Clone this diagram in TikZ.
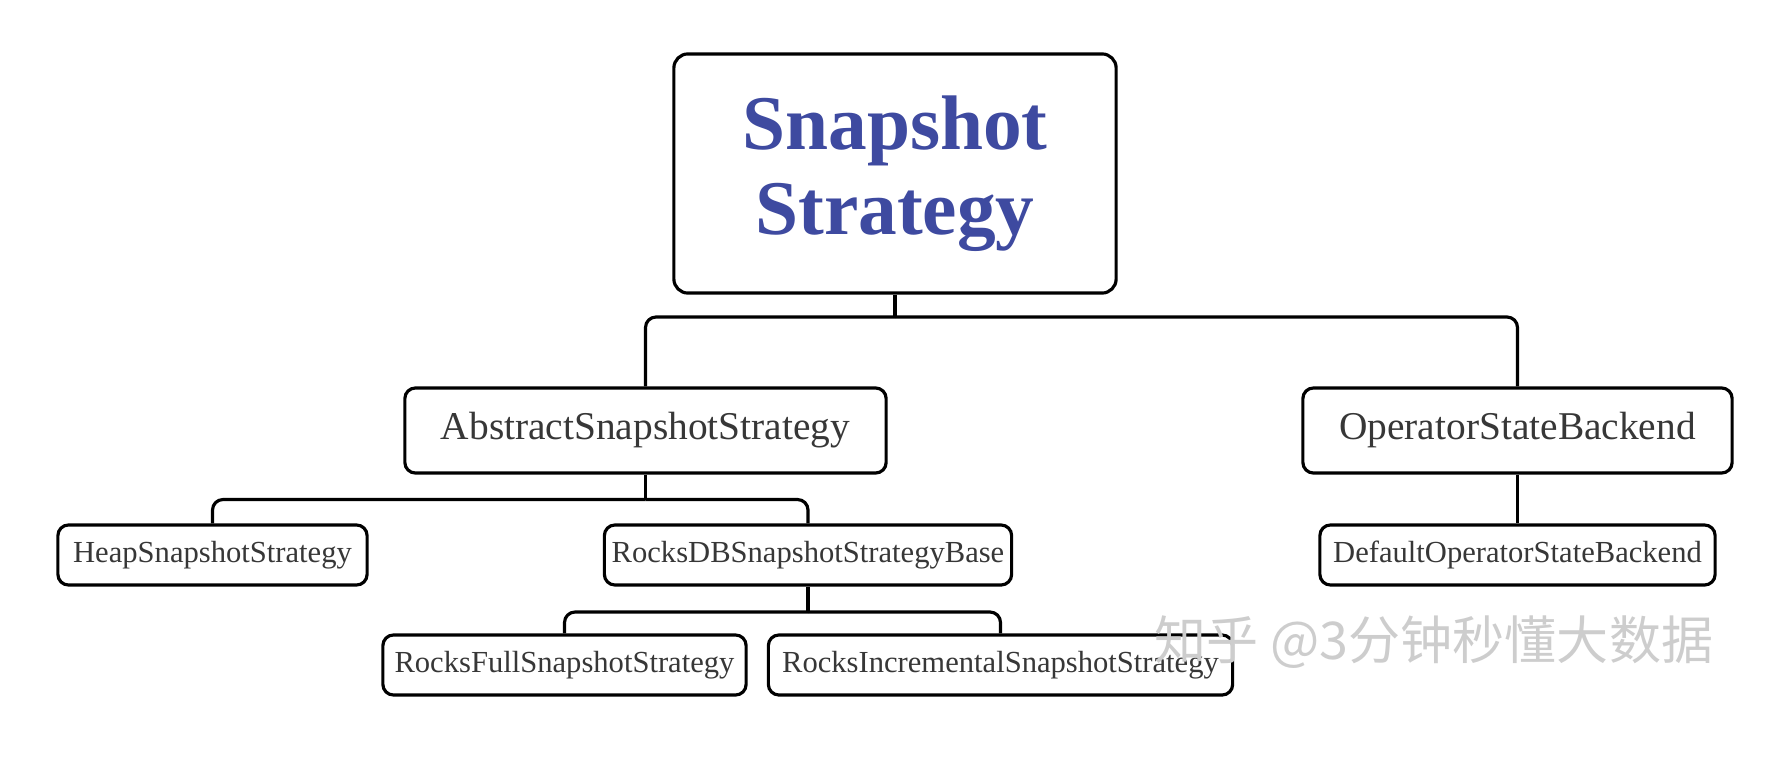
\documentclass[tikz,border=0pt]{standalone}
\usepackage{fontspec}
\setmainfont{Liberation Serif}
\newfontfamily\cjkfont{Noto Sans CJK SC}
\usetikzlibrary{positioning}
\definecolor{titleblue}{RGB}{62,74,160}
\definecolor{boxtext}{RGB}{55,55,55}
\definecolor{markgray}{RGB}{205,205,205}

\begin{document}
\begin{tikzpicture}[
    x=0.01cm, y=-0.01cm,
    box/.style={draw, rounded corners=3pt, line width=0.9pt, fill=white,
                text=boxtext, inner sep=0pt},
    big/.style={box, font=\fontsize{11.2}{13}\selectfont, minimum height=0.85cm},
    small/.style={box, font=\fontsize{8.7}{10}\selectfont, minimum height=0.6cm},
    link/.style={line width=0.9pt, rounded corners=3pt}
  ]
  \useasboundingbox (0,0) rectangle (1788,776);

  % Root
  \node[box, rounded corners=4pt, minimum width=4.42cm, minimum height=2.39cm,
        align=center, text=titleblue,
        font=\bfseries\fontsize{22}{24}\selectfont] (root) at (895,173.5)
        {Snapshot\\Strategy};

  % Second level
  \node[big, minimum width=4.81cm] (abs) at (645.5,430.5) {AbstractSnapshotStrategy};
  \node[big, minimum width=4.29cm] (opb) at (1517.5,430.5) {OperatorStateBackend};

  % Third level
  \node[small, minimum width=3.09cm] (heap) at (212.5,555) {HeapSnapshotStrategy};
  \node[small, minimum width=4.07cm] (rdb) at (808,555) {RocksDBSnapshotStrategyBase};
  \node[small, minimum width=3.95cm] (dosb) at (1517.5,555) {DefaultOperatorStateBackend};

  % Fourth level
  \node[small, minimum width=3.63cm] (full) at (564.5,665) {RocksFullSnapshotStrategy};
  \node[small, minimum width=4.64cm] (incr) at (1000.5,665) {RocksIncrementalSnapshotStrategy};

  % Links
  \coordinate (j0) at (895,317);
  \coordinate (j1) at (645.5,499.5);
  \coordinate (j2) at (808,612);
  \draw[link] (root.south) -- (j0);
  \foreach \c in {abs,opb}
    \draw[link] (j0) -| (\c.north);
  \draw[link] (abs.south) -- (j1);
  \foreach \c in {heap,rdb}
    \draw[link] (j1) -| (\c.north);
  \draw[link] (rdb.south) -- (j2);
  \foreach \c in {full,incr}
    \draw[link] (j2) -| (\c.north);
  \draw[link] (opb.south) -- (dosb.north);

  % Watermark
  \node[font=\cjkfont\fontsize{14.8}{16}\selectfont, text=markgray] (mark)
    at (1434,642) {知乎 @3分钟秒懂大数据};
\end{tikzpicture}
\end{document}
